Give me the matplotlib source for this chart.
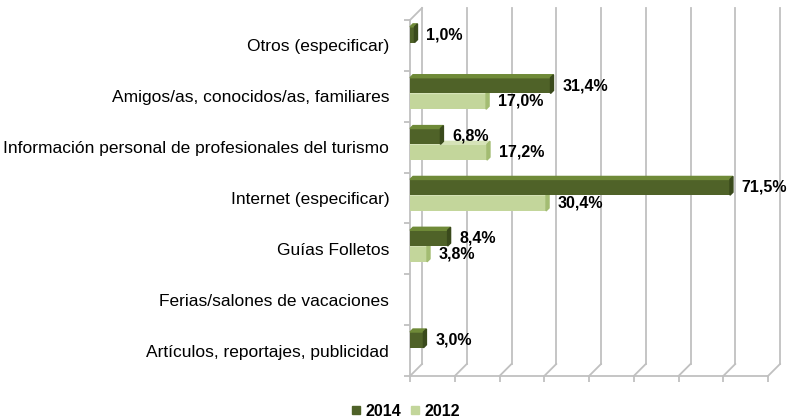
import matplotlib
matplotlib.use('Agg')
import matplotlib.pyplot as plt
from matplotlib.lines import Line2D
import numpy as np

# data (bottom to top)
categories = ['Artículos, reportajes, publicidad', 'Ferias/salones de vacaciones',
              'Guías Folletos', 'Internet (especificar)',
              'Información personal de profesionales del turismo',
              'Amigos/as, conocidos/as, familiares', 'Otros (especificar)']
vals_2014 = [3.0, None, 8.4, 71.5, 6.8, 31.4, 1.0]
vals_2012 = [None, None, 3.8, 30.4, 17.2, 17.0, None]
series_names = ['2014', '2012']

FONT = ['Liberation Sans Narrow', 'Liberation Sans', 'DejaVu Sans']

fig = plt.figure(figsize=(7.9, 4.19), dpi=100)
ax = fig.add_axes([410 / 790, 43 / 419, 358 / 790, 356 / 419])
ax.set_xlim(0, 80)
ax.set_ylim(-0.5, len(categories) - 0.5)

# pixel -> data helpers
pxx = 358 / 80
pxy = 356 / len(categories)
DX, DY = 12 / pxx, 12 / pxy      # wall depth
dx, dy = 3 / pxx, 3 / pxy        # bar depth
grid_c = '#c0c0c0'
ytop = len(categories) - 0.5

# 3D frame
for v in range(0, 81, 10):
    ax.plot([v + DX, v + DX], [-0.5 + DY, ytop + DY], color=grid_c, lw=1.3, clip_on=False, zorder=1)
    ax.plot([v, v + DX], [-0.5, -0.5 + DY], color=grid_c, lw=1.3, clip_on=False, zorder=1)
ax.plot([0, 80], [-0.5, -0.5], color=grid_c, lw=1.3, clip_on=False, zorder=1)
ax.plot([0, 0], [-0.5, ytop], color=grid_c, lw=1.3, clip_on=False, zorder=1)
ax.plot([0, DX], [ytop, ytop + DY], color=grid_c, lw=1.3, clip_on=False, zorder=1)

for s in ax.spines.values():
    s.set_visible(False)

# ticks
ax.set_xticks(range(0, 81, 10))
ax.set_xticklabels([])
ax.tick_params(axis='x', length=4, color=grid_c, width=1.3)
ax.set_yticks(range(len(categories)))
ax.set_yticklabels(categories, family=FONT, fontsize=12.5)
ax.set_yticks(np.arange(-0.5, len(categories)), minor=True)
ax.tick_params(axis='y', which='major', length=0, pad=15)
ax.tick_params(axis='y', which='minor', length=4, color=grid_c, width=1.3)

h = 0.31
styles = [
    (vals_2014, 0.21, '#4f6228', '#6f8a38', '#3a4a1c', 5),
    (vals_2012, -0.10, '#c3d69b', '#d6e3b8', '#a3bc72', 3),
]
# draw 2012 first so 2014 sits above it
for vals, off, front, top, side, z in styles[::-1]:
    for i, v in enumerate(vals):
        if v is None:
            continue
        yc = i + off
        y0, y1 = yc - h / 2, yc + h / 2
        ax.barh(yc, v, height=h, color=front, zorder=z)
        ax.fill([0, v, v + dx, dx], [y1, y1, y1 + dy, y1 + dy], color=top, zorder=z, clip_on=False)
        ax.fill([v, v + dx, v + dx, v], [y0, y0 + dy, y1 + dy, y1], color=side, zorder=z, clip_on=False)
        ax.annotate(f'{v:.1f}%'.replace('.', ','), xy=(v, yc), xytext=(8.5, 0),
                    textcoords='offset points', ha='left', va='center',
                    family=FONT, fontsize=11.5, fontweight='bold', zorder=10,
                    annotation_clip=False)

handles = [Line2D([], [], marker='s', ls='', color='#4f6228', markersize=6),
           Line2D([], [], marker='s', ls='', color='#c3d69b', markersize=6)]
fig.legend(handles, series_names, loc='center', bbox_to_anchor=(404 / 790, 1 - 411 / 419),
           ncol=2, frameon=False, handletextpad=0.1, columnspacing=0.4, handlelength=1.0,
           prop={'family': FONT, 'size': 11.5, 'weight': 'bold'})

fig.savefig('out.png', dpi=100)
